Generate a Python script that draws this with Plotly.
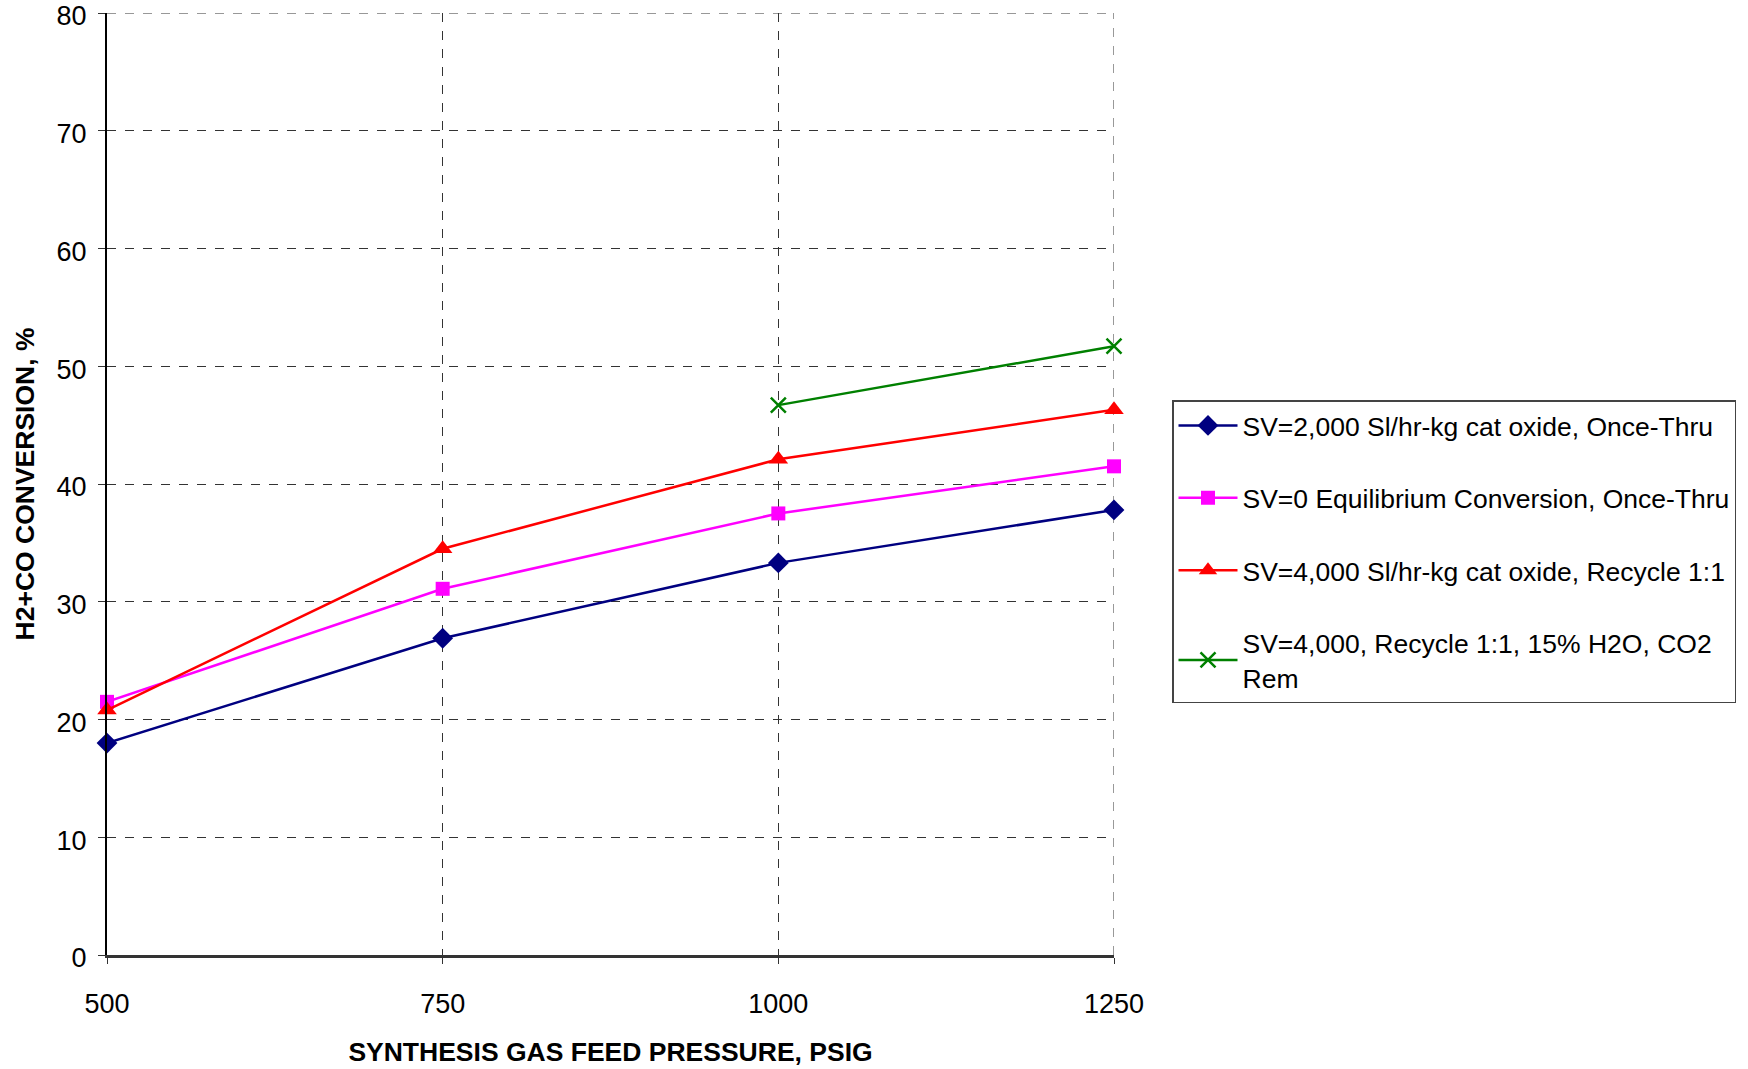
import plotly.graph_objects as go

pressure = [500, 750, 1000, 1250]
sv2000_once = [18.0, 26.9, 33.3, 37.8]
sv0_equil = [21.5, 31.1, 37.5, 41.5]
sv4000_recycle = [20.8, 34.5, 42.1, 46.3]
pressure_green = [1000, 1250]
sv4000_h2o = [46.7, 51.7]
y_ticks = [0, 10, 20, 30, 40, 50, 60, 70, 80]

names = [
    "SV=2,000 Sl/hr-kg cat oxide, Once-Thru",
    "SV=0 Equilibrium Conversion, Once-Thru",
    "SV=4,000 Sl/hr-kg cat oxide, Recycle 1:1",
    "SV=4,000, Recycle 1:1, 15% H2O, CO2<br>Rem",
]

FONT = "Liberation Sans, Arial, sans-serif"
FS = 27

fig = go.Figure()
fig.add_trace(go.Scatter(x=pressure, y=sv2000_once, name=names[0], mode="lines+markers",
                         line=dict(color="#000080", width=2.5),
                         marker=dict(symbol="diamond", size=16, color="#000080"),
                         legendgroup="a", cliponaxis=False))
fig.add_trace(go.Scatter(x=pressure, y=sv0_equil, name=names[1], mode="lines+markers",
                         line=dict(color="#FF00FF", width=2.5),
                         marker=dict(symbol="square", size=14, color="#FF00FF"),
                         legendgroup="b", cliponaxis=False))
fig.add_trace(go.Scatter(x=pressure, y=sv4000_recycle, name=names[2], mode="lines+markers",
                         line=dict(color="#FF0000", width=2.5),
                         marker=dict(symbol="triangle-up", size=17, color="#FF0000"),
                         legendgroup="c", cliponaxis=False))
fig.add_trace(go.Scatter(x=pressure_green, y=sv4000_h2o, name=names[3], mode="lines+markers",
                         line=dict(color="#008000", width=2.5),
                         marker=dict(symbol="x-thin", size=15, line=dict(color="#008000", width=2.5)),
                         legendgroup="d", cliponaxis=False))

# edge gridlines (plotly drops gridlines at the range ends)
fig.add_shape(type="line", xref="paper", yref="y", x0=0, x1=1, y0=y_ticks[-1], y1=y_ticks[-1],
              line=dict(color="#333333", width=1, dash="dash"), layer="below")
fig.add_shape(type="line", xref="x", yref="paper", x0=pressure[-1], x1=pressure[-1], y0=0, y1=1,
              line=dict(color="#333333", width=1, dash="dash"), layer="below")

fig.update_layout(
    width=1748, height=1069,
    margin=dict(l=107, r=634, t=13, b=114, autoexpand=False),
    paper_bgcolor="white", plot_bgcolor="white",
    font=dict(family=FONT, size=FS, color="black"),
    showlegend=True,
    legend=dict(
        x=1.0576, y=0.589, xanchor="left", yanchor="top",
        bordercolor="#444444", borderwidth=1.5,
        font=dict(family=FONT, size=26.5, color="black"),
        traceorder="grouped", tracegroupgap=35,
        itemwidth=59,
        bgcolor="white",
    ),
)

fig.update_xaxes(
    range=[pressure[0], pressure[-1]], tickvals=pressure, ticktext=[str(p) for p in pressure],
    showgrid=True, gridcolor="#333333", griddash="dash", gridwidth=1,
    showline=True, linecolor="#333333", linewidth=2.5,
    ticks="outside", ticklen=6, tickcolor="#333333",
    ticklabelstandoff=17, ticklabeloverflow="allow",
    tickfont=dict(family=FONT, size=FS),
    title=dict(text="<b>SYNTHESIS GAS FEED PRESSURE, PSIG</b>", font=dict(family=FONT, size=26.5), standoff=25),
    zeroline=False,
)
fig.update_yaxes(
    range=[y_ticks[0], y_ticks[-1]], tickvals=y_ticks,
    showgrid=True, gridcolor="#333333", griddash="dash", gridwidth=1,
    showline=True, linecolor="black", linewidth=2,
    ticks="outside", ticklen=7, tickcolor="#333333",
    ticklabelstandoff=6, ticklabeloverflow="allow", ticklabelshift=3,
    tickfont=dict(family=FONT, size=FS),
    title=dict(text="<b>H2+CO CONVERSION, %</b>", font=dict(family=FONT, size=26.5), standoff=14),
    zeroline=False,
)

fig.write_html("out.html")
